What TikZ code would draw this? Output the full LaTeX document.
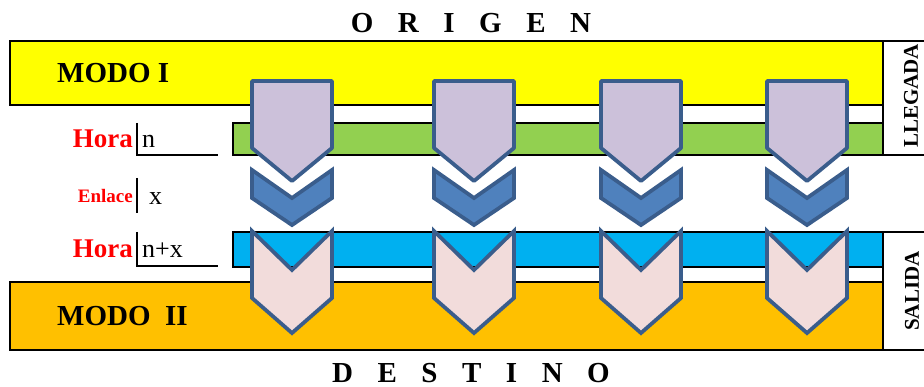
\documentclass[tikz,border=0pt]{standalone}
\usepackage{fontspec}
\setmainfont{Liberation Serif}
\definecolor{cyellow}{HTML}{FFFF00}
\definecolor{cgreen}{HTML}{92D050}
\definecolor{cblue}{HTML}{00B0F0}
\definecolor{corange}{HTML}{FFC000}
\definecolor{clav}{HTML}{CCC1DA}
\definecolor{cchev}{HTML}{4F81BD}
\definecolor{cpink}{HTML}{F2DCDB}
\definecolor{cedge}{HTML}{3A5D8C}
\definecolor{cred}{HTML}{FF0000}
\newcommand{\lgap}{\hspace{24.5pt}}
\begin{document}
\begin{tikzpicture}[x=1pt,y=-1pt,
  band/.style={draw=black,line width=2.8pt},
  bigtitle/.style={font=\fontsize{29}{30}\selectfont\bfseries,inner sep=0pt},
  modotext/.style={font=\fontsize{29}{30}\selectfont\bfseries,inner sep=0pt,anchor=base west},
  horatext/.style={font=\fontsize{27}{28}\selectfont\bfseries,text=cred,inner sep=0pt,anchor=base east},
  enltext/.style={font=\fontsize{19}{20}\selectfont\bfseries,text=cred,inner sep=0pt,anchor=base east},
  valtext/.style={font=\fontsize{26}{28}\selectfont,inner sep=0pt,anchor=base west},
  sidetext/.style={font=\fontsize{21}{22}\selectfont\bfseries,inner sep=0pt,rotate=90},
  tick/.style={draw=black,line width=2pt},
  pent/.style={draw=cedge,fill=clav,line width=3.8pt,line join=round},
  chevA/.style={draw=cedge,fill=cchev,line width=3.8pt,line join=miter},
  chevB/.style={draw=cedge,fill=cpink,line width=3.8pt,line join=miter}]
\useasboundingbox (0,0) rectangle (924,387);

% bands
\path[band,fill=cyellow] (10,41) rectangle (883,105);
\path[band,fill=cgreen] (233,123) rectangle (883,155);
\path[band,fill=cblue] (233,232) rectangle (883,267);
\path[band,fill=corange] (10,282) rectangle (883,350);
\path[band,fill=white] (883,41) rectangle (930,155);
\path[band,fill=white] (883,232) rectangle (930,350);

% titles
\node[bigtitle,anchor=base] (origen) at (471,33) {O\lgap R\lgap I\lgap G\lgap E\lgap N};
\node[bigtitle,anchor=base] (destino) at (471,382) {D\lgap E\lgap S\lgap T\lgap I\lgap N\lgap O};
\node[modotext] (modo1) at (57,83) {MODO I};
\node[modotext] (modo2) at (57,326) {MODO~~II};
\node[sidetext] (llegada) at (911,96) {LLEGADA};
\node[sidetext] (salida) at (912,291) {SALIDA};

% left labels
\node[horatext] (hora1) at (133,148) {Hora};
\node[enltext] (enlace) at (133,203) {Enlace};
\node[horatext] (hora2) at (133,258) {Hora};
\node[valtext] (v1) at (142,148) {n};
\node[valtext] (v2) at (149,205) {x};
\node[valtext] (v3) at (142,258) {n+x};
\coordinate (t1a) at (137,123); \coordinate (t1b) at (137,155); \coordinate (t1c) at (218,155);
\coordinate (t2a) at (137,178); \coordinate (t2b) at (137,213);
\coordinate (t3a) at (137,232); \coordinate (t3b) at (137,266); \coordinate (t3c) at (218,266);
\draw[tick] (t1a) -- (t1b) -- (t1c);
\draw[tick] (t2a) -- (t2b);
\draw[tick] (t3a) -- (t3b) -- (t3c);

% arrows
\foreach \cx in {292,474,641,807}{
  \draw[pent] (\cx-40,81) -- (\cx+40,81) -- (\cx+40,148) -- (\cx,181) -- (\cx-40,148) -- cycle;
  \draw[chevA] (\cx-40,170) -- (\cx,198) -- (\cx+40,170) -- (\cx+40,198) -- (\cx,225) -- (\cx-40,198) -- cycle;
  \draw[chevB] (\cx-40,231) -- (\cx,270) -- (\cx+40,231) -- (\cx+40,298) -- (\cx,333) -- (\cx-40,298) -- cycle;
}
\end{tikzpicture}
\end{document}
